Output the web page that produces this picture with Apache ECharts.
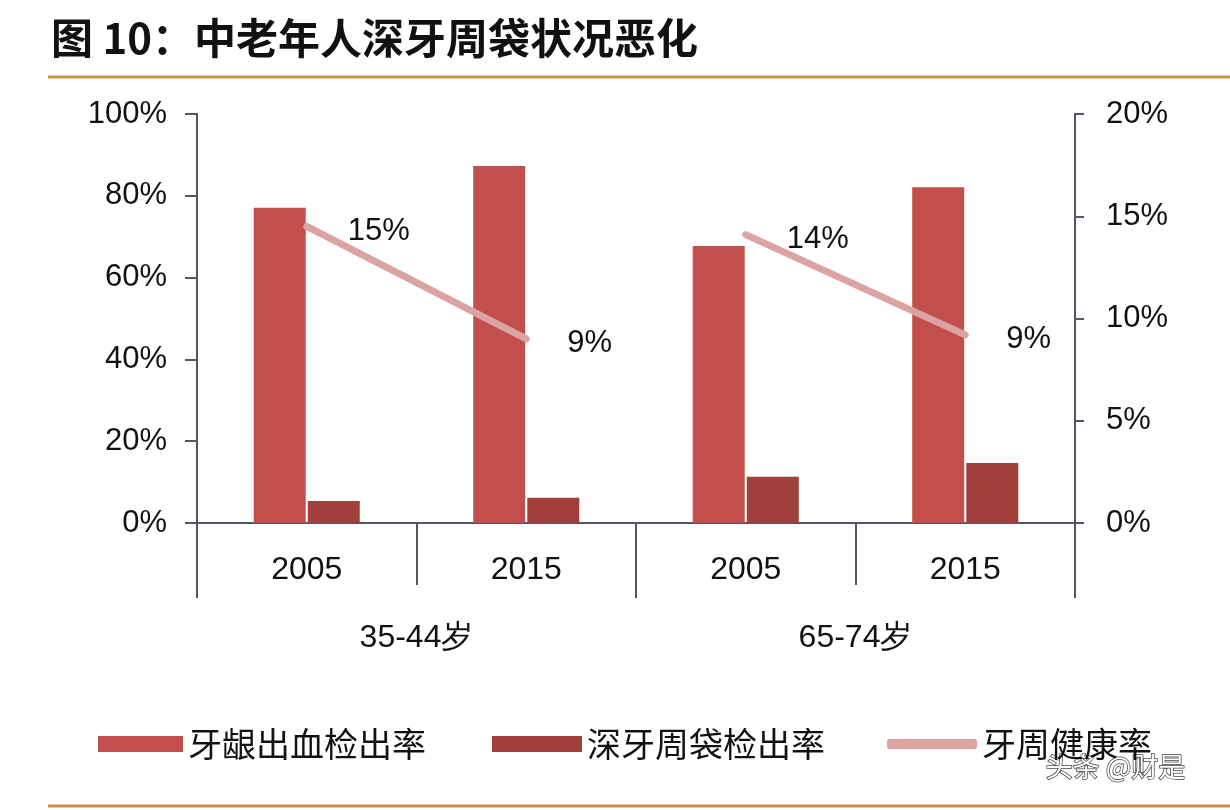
<!DOCTYPE html>
<html>
<head>
<meta charset="utf-8">
<script src="https://cdn.jsdelivr.net/npm/echarts@6/dist/echarts.min.js"></script>
<style>
html,body{margin:0;padding:0;background:#fff;}
#chart{width:1230px;height:810px;}
</style>
</head>
<body>
<div id="chart"></div>
<script>
var categories = ['2005', '2015', '2005', '2015'];
var groups = ['35-44岁', '65-74岁'];
var gumBleeding = [77.1, 87.3, 67.7, 82.1];
var deepPocket = [5.4, 6.2, 11.3, 14.7];
var healthRate35 = [14.5, 9.0, null, null];
var healthRate65 = [null, null, 14.1, 9.2];
var healthLabels = ['15%', '9%', '14%', '9%'];

var numFont = "'Liberation Sans', Arial, sans-serif";
var cjkFont = "'Noto Sans CJK SC', sans-serif";
var axisColor = '#545463';
var lineColor = '#dba4a2';

function healthSeries(data) {
  return {
    name: '牙周健康率', type: 'line', data: data, xAxisIndex: 0, yAxisIndex: 1,
    symbol: 'circle', symbolSize: 2, showSymbol: true, connectNulls: false, z: 5,
    lineStyle: {color: lineColor, width: 7, cap: 'round'},
    itemStyle: {color: 'rgba(0,0,0,0)', borderWidth: 0},
    label: {
      show: true, position: 'right', distance: 40, offset: [0, 5],
      formatter: function (p) { return healthLabels[p.dataIndex]; },
      fontFamily: numFont, fontSize: 31, color: '#111', opacity: 1
    }
  };
}

var chart = echarts.init(document.getElementById('chart'));
chart.setOption({
  animation: false,
  backgroundColor: '#fff',
  title: {
    text: '图 10：中老年人深牙周袋状况恶化',
    left: 46, top: 12,
    textStyle: {fontFamily: cjkFont, fontSize: 42, fontWeight: 'bold', color: '#111'}
  },
  graphic: [
    {type: 'line', shape: {x1: 48, y1: 77, x2: 1230, y2: 77}, style: {stroke: '#c9953f', lineWidth: 3}},
    {type: 'line', shape: {x1: 48, y1: 806, x2: 1230, y2: 806}, style: {stroke: '#c9953f', lineWidth: 3}},
    {type: 'text', left: 1045, top: 752, style: {text: '头条 @财是', fontFamily: cjkFont, fontSize: 27, fill: '#fff', stroke: '#444', lineWidth: 1.5}}
  ],
  legend: [
    {data: [{name: '牙龈出血检出率', icon: 'rect'}], left: 93, top: 722, itemWidth: 85, itemHeight: 16, itemGap: 10,
     textStyle: {fontFamily: cjkFont, fontSize: 34, color: '#111'}},
    {data: [{name: '深牙周袋检出率', icon: 'rect'}], left: 487, top: 722, itemWidth: 90, itemHeight: 16,
     textStyle: {fontFamily: cjkFont, fontSize: 34, color: '#111'}},
    {data: [{name: '牙周健康率', icon: 'roundRect', itemStyle: {color: lineColor, opacity: 1}}], left: 882, top: 722, itemWidth: 90, itemHeight: 10,
     textStyle: {fontFamily: cjkFont, fontSize: 34, color: '#111'}}
  ],
  grid: {left: 197, right: 155, top: 114, bottom: 287, containLabel: false},
  xAxis: [
    {
      type: 'category', data: categories, position: 'bottom',
      axisLine: {show: true, lineStyle: {color: axisColor, width: 2}},
      axisTick: {show: true, interval: 0, length: 62, alignWithLabel: false, lineStyle: {color: axisColor, width: 2}},
      axisLabel: {interval: 0, margin: 31, fontFamily: numFont, fontSize: 32, color: '#111'}
    },
    {
      type: 'category', data: groups, position: 'bottom', offset: 62,
      axisLine: {show: false},
      axisTick: {show: true, interval: 0, length: 75, alignWithLabel: false, lineStyle: {color: axisColor, width: 2}},
      axisLabel: {interval: 0, margin: 37, fontFamily: numFont, fontSize: 32, color: '#111'}
    }
  ],
  yAxis: [
    {
      type: 'value', min: 0, max: 100, interval: 20, position: 'left',
      axisLine: {show: true, lineStyle: {color: axisColor, width: 2}},
      axisTick: {show: true, length: 12, lineStyle: {color: axisColor, width: 2}},
      splitLine: {show: false},
      axisLabel: {margin: 30, formatter: '{value}%', fontFamily: numFont, fontSize: 31, color: '#111'}
    },
    {
      type: 'value', min: 0, max: 20, interval: 5, position: 'right',
      axisLine: {show: true, lineStyle: {color: axisColor, width: 2}},
      axisTick: {show: true, length: 9, lineStyle: {color: axisColor, width: 2}},
      splitLine: {show: false},
      axisLabel: {margin: 31, formatter: '{value}%', fontFamily: numFont, fontSize: 31, color: '#111'}
    }
  ],
  series: [
    {
      name: '牙龈出血检出率', type: 'bar', data: gumBleeding, xAxisIndex: 0, yAxisIndex: 0,
      barWidth: 52, barGap: '4%',
      itemStyle: {color: '#c24f4b'}
    },
    {
      name: '深牙周袋检出率', type: 'bar', data: deepPocket, xAxisIndex: 0, yAxisIndex: 0,
      barWidth: 52, barGap: '4%',
      itemStyle: {color: '#a13f3b'}
    },
    healthSeries(healthRate35),
    healthSeries(healthRate65)
  ]
});
</script>
</body>
</html>
